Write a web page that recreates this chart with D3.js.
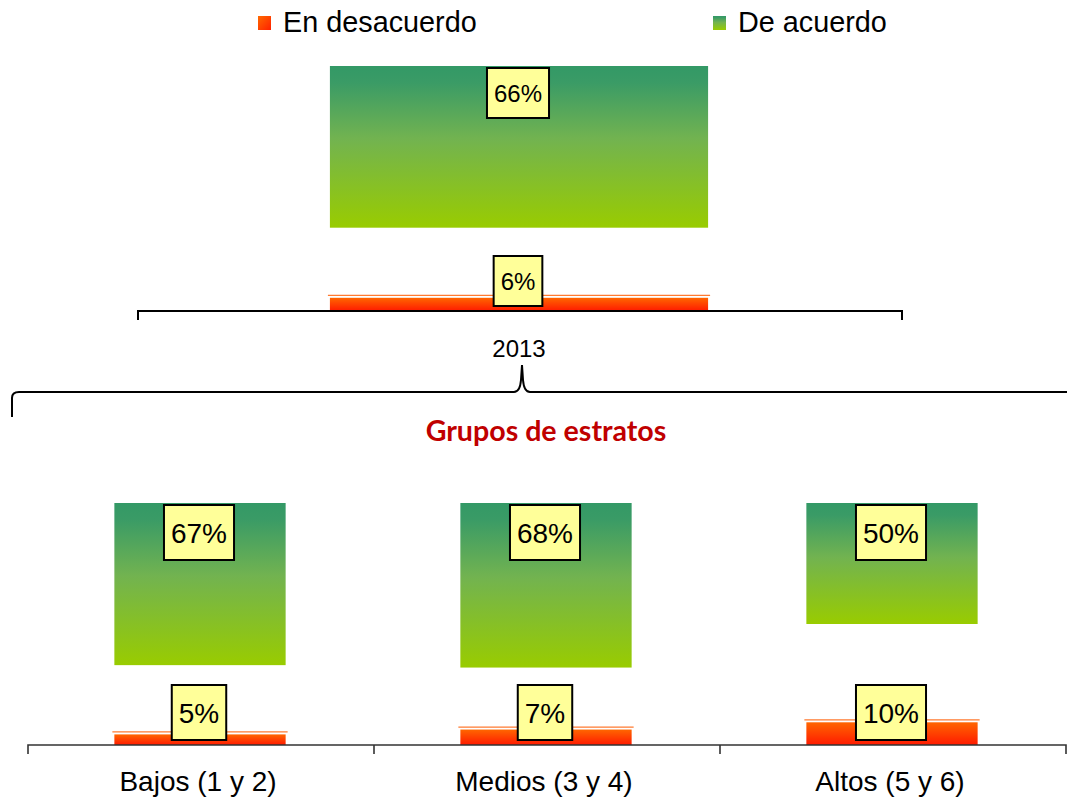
<!DOCTYPE html>
<html>
<head>
<meta charset="utf-8">
<script src="https://cdn.jsdelivr.net/npm/d3@7"></script>
<style>
  body { margin: 0; background: #fff; }
  svg { display: block; }
  text { font-family: "Liberation Sans", Arial, sans-serif; }
</style>
</head>
<body>
<svg id="chart" width="1067" height="799"></svg>
<script>
// ---- data ----
const seriesNames = ["En desacuerdo", "De acuerdo"];
const topCategories = ["2013"];
const topDesacuerdo = [6];
const topNeutral = [28];      // remainder not displayed
const topAcuerdo = [66];

const groupTitle = "Grupos de estratos";
const bottomCategories = ["Bajos (1 y 2)", "Medios (3 y 4)", "Altos (5 y 6)"];
const bottomDesacuerdo = [5, 7, 10];
const bottomNeutral = [28, 25, 40];   // remainder not displayed
const bottomAcuerdo = [67, 68, 50];

// ---- setup ----
const svg = d3.select("#chart");
const defs = svg.append("defs");

const gGreen = defs.append("linearGradient").attr("id", "gGreen")
  .attr("x1", 0).attr("y1", 0).attr("x2", 0).attr("y2", 1);
gGreen.append("stop").attr("offset", "0%").attr("stop-color", "#339966");
gGreen.append("stop").attr("offset", "10%").attr("stop-color", "#3a9b66");
gGreen.append("stop").attr("offset", "45%").attr("stop-color", "#72b350");
gGreen.append("stop").attr("offset", "100%").attr("stop-color", "#99cc00");

const gRed = defs.append("linearGradient").attr("id", "gRed")
  .attr("x1", 0).attr("y1", 0).attr("x2", 0).attr("y2", 1);
gRed.append("stop").attr("offset", "0%").attr("stop-color", "#ff6600");
gRed.append("stop").attr("offset", "100%").attr("stop-color", "#ff1a00");

const gRedLeg = defs.append("linearGradient").attr("id", "gRedLeg")
  .attr("x1", 0).attr("y1", 0).attr("x2", 1).attr("y2", 1);
gRedLeg.append("stop").attr("offset", "0%").attr("stop-color", "#ff6a00");
gRedLeg.append("stop").attr("offset", "100%").attr("stop-color", "#ff2000");

// ---- legend ----
const legend = svg.append("g");
const legItems = [
  { name: seriesNames[0], fill: "url(#gRedLeg)", x: 258 },
  { name: seriesNames[1], fill: "url(#gGreen)", x: 713 }
];
legItems.forEach(d => {
  legend.append("rect").attr("x", d.x).attr("y", 16).attr("width", 13).attr("height", 14)
    .attr("fill", d.fill);
  legend.append("text").attr("x", d.x + 25).attr("y", 32)
    .attr("font-size", 28.8).attr("fill", "#000").text(d.name);
});

// ---- generic panel drawer ----
function drawPanel(cfg) {
  const g = svg.append("g");
  const data = cfg.categories.map((c, i) => ({
    cat: c, desacuerdo: cfg.desacuerdo[i], neutral: cfg.neutral[i], acuerdo: cfg.acuerdo[i]
  }));
  const stack = d3.stack().keys(["desacuerdo", "neutral", "acuerdo"]);
  const layers = stack(data);

  const x = d3.scaleBand().domain(cfg.categories).range(cfg.xRange).padding(0);
  const y = d3.scaleLinear().domain([0, 100]).range(cfg.yRange);
  const bw = x.bandwidth() * 0.495;
  const bx = c => x(c) + (x.bandwidth() - bw) / 2 - 1;

  // green (de acuerdo) bars
  const green = layers[2];
  g.selectAll(".green").data(green).enter().append("rect")
    .attr("x", d => bx(d.data.cat)).attr("width", bw)
    .attr("y", d => y(d[1])).attr("height", d => y(d[0]) - y(d[1]))
    .attr("fill", "url(#gGreen)");

  // red (en desacuerdo) bars
  const red = layers[0];
  g.selectAll(".redline").data(red).enter().append("line")
    .attr("x1", d => bx(d.data.cat) - 2).attr("x2", d => bx(d.data.cat) + bw + 2)
    .attr("y1", d => y(d[1]) - 1).attr("y2", d => y(d[1]) - 1)
    .attr("stroke", "#ff7a30").attr("stroke-width", 1.3);
  g.selectAll(".red").data(red).enter().append("rect")
    .attr("x", d => bx(d.data.cat)).attr("width", bw)
    .attr("y", d => y(d[1]) + 1.5).attr("height", d => y(d[0]) - y(d[1]) - 1.5)
    .attr("fill", "url(#gRed)");

  // axis
  const axis = d3.axisBottom(x).tickSize(cfg.tickLen).tickFormat("").tickSizeOuter(cfg.tickLen);
  const ax = g.append("g").attr("transform", `translate(0,${cfg.yRange[0]})`).call(axis);
  ax.select(".domain").attr("stroke", cfg.axisColor).attr("stroke-width", cfg.axisWidth)
    .attr("d", `M${cfg.xRange[0]},${cfg.tickLen}V0H${cfg.xRange[1]}V${cfg.tickLen}`);
  // boundary ticks between categories
  ax.selectAll(".tick").remove();
  const bounds = cfg.categories.slice(1).map(c => x(c));
  ax.selectAll(".btick").data(bounds).enter().append("line")
    .attr("x1", d => d).attr("x2", d => d).attr("y1", 0).attr("y2", cfg.tickLen)
    .attr("stroke", cfg.axisColor).attr("stroke-width", cfg.axisWidth);

  // category labels
  g.selectAll(".cat").data(cfg.categories).enter().append("text")
    .attr("x", d => x(d) + x.bandwidth() / 2 + cfg.labelDx)
    .attr("y", cfg.labelY).attr("text-anchor", "middle")
    .attr("font-size", cfg.catFont).attr("fill", "#000").text(d => d);

  // value labels
  function box(xc, yTop, value) {
    const t = g.append("text").attr("x", xc).attr("y", yTop + cfg.boxH / 2)
      .attr("dy", "0.36em").attr("text-anchor", "middle")
      .attr("font-size", cfg.valFont).attr("fill", "#000").text(value + "%");
    const w = t.node().getComputedTextLength() + 14;
    g.insert("rect", () => t.node())
      .attr("x", xc - w / 2).attr("y", yTop).attr("width", w).attr("height", cfg.boxH)
      .attr("fill", "#ffff99").attr("stroke", "#000").attr("stroke-width", 2);
  }
  green.forEach(d => box(bx(d.data.cat) + bw / 2 - 1, y(d[1]) + 2, d.data.acuerdo));
  red.forEach(d => box(bx(d.data.cat) + bw / 2 - 1, y(0) - 5 - cfg.boxH, d.data.desacuerdo));
  return { x, y };
}

drawPanel({
  categories: topCategories, desacuerdo: topDesacuerdo, neutral: topNeutral, acuerdo: topAcuerdo,
  xRange: [138, 902], yRange: [311, 66], tickLen: 9, axisColor: "#000", axisWidth: 2,
  labelY: 357, labelDx: -1, catFont: 24, valFont: 24, boxH: 50
});

drawPanel({
  categories: bottomCategories, desacuerdo: bottomDesacuerdo, neutral: bottomNeutral, acuerdo: bottomAcuerdo,
  xRange: [28, 1066], yRange: [745, 503], tickLen: 9, axisColor: "#333", axisWidth: 1.6,
  labelY: 791, labelDx: -3, catFont: 28, valFont: 28, boxH: 55
});

// ---- curly brace & group title ----
svg.append("path")
  .attr("d", "M12,417 V398 Q12,392 19,392 H514 Q520,392 521,380 L522,365 L523,380 Q524,392 530,392 H1070")
  .attr("fill", "none").attr("stroke", "#000").attr("stroke-width", 2);

svg.append("text").attr("x", 546).attr("y", 441).attr("text-anchor", "middle")
  .style("font-family", "Lato, 'Open Sans', sans-serif").attr("font-weight", "bold")
  .attr("font-size", 28.6).attr("fill", "#c00000").text(groupTitle);
</script>
</body>
</html>
